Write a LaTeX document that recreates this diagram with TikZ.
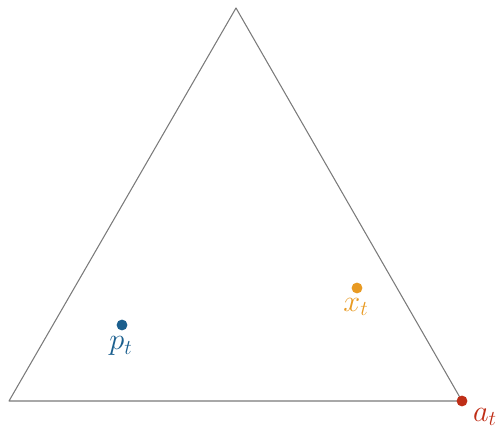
\documentclass[tikz,border=0pt]{standalone}
\definecolor{ptblue}{HTML}{1B5F8E}
\definecolor{xtorange}{HTML}{E89A22}
\definecolor{atred}{HTML}{BF2E17}
\definecolor{edgegray}{HTML}{7A7A7A}
\tikzset{dot/.style={circle,fill,inner sep=0pt,minimum size=6.2pt}}
\begin{document}
\begin{tikzpicture}[x=0.02cm,y=-0.02cm]
\useasboundingbox (0,0) rectangle (497,429);
% Simplex
\coordinate (top) at (236,8);
\coordinate (left) at (9,401);
\coordinate (right) at (462,401);
\draw[edgegray,line width=0.6pt,line join=round] (top)--(left)--(right)--cycle;
% Points
\node[dot,ptblue] (p) at (122,325) {};
\node[ptblue,font=\LARGE] (plabel) at (121,346) {$p_t$};
\node[dot,xtorange] (x) at (357,288) {};
\node[xtorange,font=\LARGE] (xlabel) at (356,307) {$x_t$};
\node[dot,atred] (a) at (462,401) {};
\node[atred,font=\LARGE] (alabel) at (485,417) {$a_t$};
\end{tikzpicture}
\end{document}
